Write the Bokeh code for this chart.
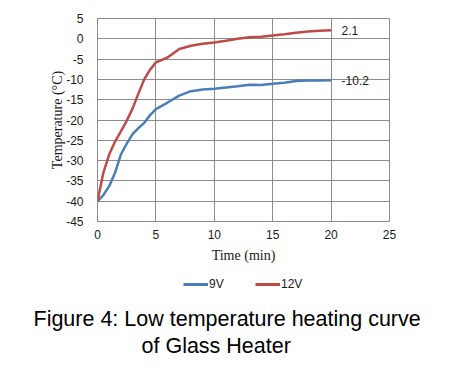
from bokeh.plotting import figure
from bokeh.layouts import column
from bokeh.models import Range1d, Label, Legend, LegendItem, FixedTicker, Title
from bokeh.embed import file_html
from bokeh.resources import INLINE

time_min = [0, 0.5, 1, 1.5, 2, 2.5, 3, 3.5, 4, 4.5, 5, 6, 7, 8, 9, 10, 11, 12, 13, 14, 15, 16, 17, 18, 19, 20]
temp_9v = [-40, -38.5, -36.3, -33, -28.5, -25.8, -23.5, -22, -20.7, -18.8, -17.3, -15.7, -14, -12.9, -12.5, -12.3,
           -12, -11.7, -11.3, -11.4, -11.1, -10.8, -10.4, -10.3, -10.3, -10.2]
temp_12v = [-40, -33, -28.5, -25.3, -22.8, -20.2, -17.2, -13.5, -10, -7.6, -5.8, -4.6, -2.5, -1.7, -1.2, -0.9,
            -0.5, 0, 0.4, 0.5, 0.8, 1.1, 1.5, 1.8, 2.0, 2.1]
series_names = ["9V", "12V"]
end_labels = ["-10.2", "2.1"]
x_ticks = [0, 5, 10, 15, 20, 25]
y_ticks = [5, 0, -5, -10, -15, -20, -25, -30, -35, -40, -45]
caption = ["Figure 4: Low temperature heating curve", "of Glass Heater"]

BLUE = "#4A7EBB"
RED = "#BE4B48"
GRID = "#8C8C8C"
W = 434

p = figure(width=W, height=268, output_backend="svg", toolbar_location=None,
           x_range=Range1d(0, 25), y_range=Range1d(-45, 5),
           min_border_left=97, min_border_right=45, min_border_top=18, min_border_bottom=47)

p.outline_line_color = GRID
p.xgrid.ticker = FixedTicker(ticks=x_ticks)
p.ygrid.ticker = FixedTicker(ticks=y_ticks)
p.xaxis.ticker = FixedTicker(ticks=x_ticks)
p.yaxis.ticker = FixedTicker(ticks=y_ticks)
p.yaxis.major_label_overrides = {t: str(t) for t in y_ticks}
for g in (p.xgrid, p.ygrid):
    g.grid_line_color = GRID
    g.grid_line_width = 1
for ax in (p.xaxis, p.yaxis):
    ax.axis_line_color = None
    ax.major_tick_line_color = None
    ax.minor_tick_line_color = None
    ax.major_label_text_font = "Liberation Sans"
    ax.major_label_text_font_size = "12px"
    ax.major_label_text_color = "#1a1a1a"
    ax.axis_label_text_font = "Liberation Serif"
    ax.axis_label_text_font_style = "normal"
    ax.axis_label_text_font_size = "14px"
    ax.axis_label_text_color = "#1a1a1a"
p.xaxis.major_label_standoff = 2
p.yaxis.major_label_standoff = 8
p.xaxis.axis_label = "Time (min)"
p.yaxis.axis_label = "Temperature (°C)"
p.xaxis.axis_label_standoff = 6
p.yaxis.axis_label_standoff = -2

p.line(time_min, temp_9v, line_color=BLUE, line_width=2.5)
p.line(time_min, temp_12v, line_color=RED, line_width=2.5)

for lab, yv in zip(end_labels, [temp_9v[-1], temp_12v[-1]]):
    p.add_layout(Label(x=20.9, y=yv, text=lab, text_font="Liberation Sans", text_font_size="12px",
                       text_baseline="middle", text_align="left", text_color="#1a1a1a"))

# lower strip: legend (in its frame) and the two caption lines (as titles below it)
q = figure(frame_width=292, frame_height=36, output_backend="svg", toolbar_location=None,
           x_range=Range1d(0, 25), y_range=Range1d(100, 200),
           min_border_left=97, min_border_right=45, min_border_top=0, min_border_bottom=0)
q.axis.visible = False
q.grid.visible = False
q.outline_line_color = None

l9 = q.line(time_min, temp_9v, line_color=BLUE, line_width=3)
l12 = q.line(time_min, temp_12v, line_color=RED, line_width=3)
legend = Legend(items=[LegendItem(label=series_names[0], renderers=[l9]),
                       LegendItem(label=series_names[1], renderers=[l12])],
                orientation="horizontal", location=(86, 13),
                label_text_font="Liberation Sans", label_text_font_size="12px",
                label_text_color="#1a1a1a",
                glyph_width=25, glyph_height=14, label_standoff=1, spacing=26, padding=0, margin=0,
                border_line_color=None, background_fill_alpha=0)
q.add_layout(legend, "center")

for line, off, so in zip(caption, [-64, 44], [0, 3]):
    t = Title(text=line, text_font="Liberation Sans", text_font_size="21.5px", text_font_style="normal",
              text_color="#000000", align="left", offset=off, standoff=so)
    q.add_layout(t, "below")

open("out.html", "w").write(file_html(column(p, q, spacing=0), INLINE))
